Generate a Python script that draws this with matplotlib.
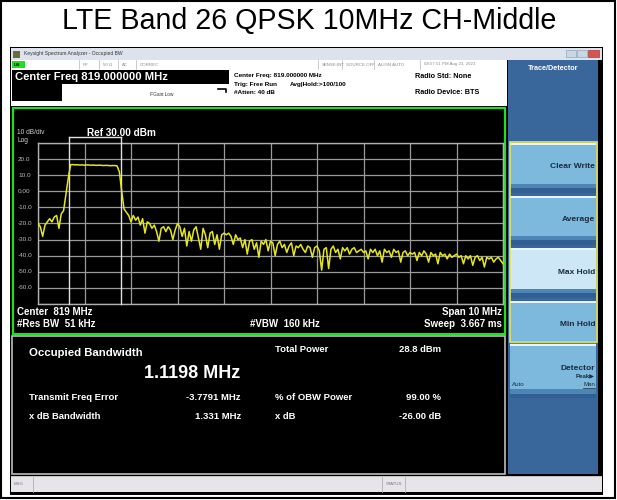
import numpy as np
import matplotlib
matplotlib.use('Agg')
import matplotlib.pyplot as plt
from matplotlib.patches import Rectangle

plt.rcParams['font.family'] = ['Liberation Sans', 'DejaVu Sans']

# ---- data ----
title = 'LTE Band 26 QPSK 10MHz CH-Middle'
start_mhz, stop_mhz = 814.0, 824.0
ref_level, db_per_div = 30.0, 10.0
obw_edges = [814.66, 815.78]

# trace level (dBm), one reading per 50 kHz from 814.00 to 824.00 MHz
trace_dbm = [
    -20, -22, -28, -21, -19, -17, -19, -16, -15, -23,
    -14, -12, -2, 8, 16.5, 16.6, 16.4, 16.5, 16.3, 16.4,
    16.2, 16.4, 16.3, 16.2, 16.3, 16.1, 16.2, 16.2, 16.0, 16.1,
    16.1, 15.9, 16.0, 16.0, 15.8, 12, 0, -11, -13, -15,
    -19, -15, -18, -16, -21, -17, -26, -19, -20, -23,
    -21, -25, -31, -23, -22, -25, -22, -24, -30, -24,
    -20, -22, -28, -23, -34, -25, -31, -24, -22, -29,
    -36, -23, -27, -35, -26, -25, -33, -27, -36, -27,
    -26, -27, -26, -28, -33, -27, -30, -29, -35, -30,
    -39, -31, -30, -36, -32, -41, -31, -33, -30, -37,
    -31, -32, -40, -33, -31, -35, -33, -38, -34, -32,
    -40, -34, -35, -33, -36, -38, -34, -35, -41, -35,
    -34, -37, -49, -36, -35, -48, -36, -34, -38, -36,
    -42, -35, -37, -35, -39, -36, -35, -38, -37, -36,
    -38, -37, -42, -36, -38, -36, -40, -37, -44, -36,
    -38, -37, -41, -36, -38, -37, -44, -38, -37, -40,
    -38, -39, -38, -43, -38, -40, -37, -39, -44, -38,
    -40, -39, -45, -38, -40, -39, -42, -39, -41, -40,
    -39, -41, -40, -45, -40, -42, -40, -46, -41, -40,
    -43, -41, -47, -41, -42, -41, -44, -42, -41, -43,
    -45,
]
freq_mhz = np.linspace(start_mhz, stop_mhz, len(trace_dbm))

y_labels = ['20.0', '10.0', '0.00', '-10.0', '-20.0', '-30.0', '-40.0', '-50.0', '-60.0']

header_mid = ['Center Freq: 819.000000 MHz', 'Trig: Free Run', '#Atten: 40 dB']
status_cells = [('RF', 83), ('50 \u03a9', 103), ('AC', 122), ('CORREC', 140),
                ('SENSE:INT', 322), ('SOURCE OFF', 346), ('ALIGN AUTO', 378),
                ('08:57:51 PM Aug 23, 2021', 424)]
results_left = [('Transmit Freq Error', '-3.7791 MHz'), ('x dB Bandwidth', '1.331 MHz')]
results_right = [('Total Power', '28.8 dBm'), ('% of OBW Power', '99.00 %'), ('x dB', '-26.00 dB')]
softkeys = ['Clear Write', 'Average', 'Max Hold', 'Min Hold']

W, H = 617, 500
fig = plt.figure(figsize=(W / 100, H / 100), dpi=100)
fig.patch.set_facecolor('white')

# overlay in pixel units for the instrument frame
ov = fig.add_axes([0, 0, 1, 1])
ov.set_xlim(0, W)
ov.set_ylim(H, 0)
ov.axis('off')


def box(x0, y0, x1, y1, fc, ec='none', lw=0, z=1):
    ov.add_patch(Rectangle((x0, y0), x1 - x0, y1 - y0, facecolor=fc, edgecolor=ec, linewidth=lw, zorder=z))


def txt(x, y, s, size=6, color='white', ha='left', bold=True, z=5, **kw):
    ov.text(x, y, s, fontsize=size, color=color, ha=ha, va='center',
            fontweight='bold' if bold else 'normal', zorder=z, **kw)


# outer cell border and title
box(1, 1, 615, 498, 'none', ec='black', lw=1.5, z=10)
txt(309, 21, title, size=20.6, color='black', ha='center', bold=False)

# instrument screen frame
box(10, 47, 603, 495, 'black')
# window title bar
box(11, 48, 602, 60, '#dde3ec')
box(13, 50.5, 20, 57.5, '#6b6b3a')
txt(24, 54, 'Keysight Spectrum Analyzer - Occupied BW', size=3.6, color='#333333', bold=False)
box(566, 50, 576, 57, '#c9d6e6', ec='#8899aa', lw=0.4)
box(577, 50, 587, 57, '#c9d6e6', ec='#8899aa', lw=0.4)
box(588, 50, 599, 57, '#d9534f', ec='#8a2a25', lw=0.4)

# status row
box(11, 60, 507, 69, 'white')
box(12, 61, 25, 68, '#22dd22')
txt(14, 64.5, 'LXI', size=3, color='black')
for s, x in status_cells:
    txt(x, 64.5, s, size=3.2, color='#8a8a8a', bold=False)
    ov.plot([x - 4, x - 4], [60, 69], color='#b5b5b5', lw=0.5, zorder=2)

# header rows
box(11, 69, 507, 106, 'white')
box(12, 70, 229, 84, 'black')
txt(15, 77, 'Center Freq 819.000000 MHz', size=8.1, color='white')
box(12, 84, 62, 101, 'black')
txt(150, 95, 'IFGain:Low', size=3.4, color='#333333', bold=False)
ov.plot([218, 226, 226], [89, 89, 92], color='black', lw=1.2, zorder=3)
for i, s in enumerate(header_mid):
    txt(234, 76 + i * 8.5, s, size=4.6, color='black')
txt(290, 84.5, 'Avg|Hold:>100/100', size=4.6, color='black')
txt(415, 76, 'Radio Std: None', size=5.2, color='black')
txt(415, 93, 'Radio Device: BTS', size=5.2, color='black')

# graph pane
box(13, 108, 505, 333.5, 'black', ec='#22dd22', lw=1.6, z=2)
txt(17, 133, '10 dB/div', size=4.8, color='#cfcfcf', bold=False)
txt(87, 132.5, 'Ref 30.00 dBm', size=7.2, color='white')
txt(17, 141, 'Log', size=4.8, color='#cfcfcf', bold=False)
txt(17, 312, 'Center  819 MHz', size=7, color='white')
txt(17, 324, '#Res BW  51 kHz', size=7, color='white')
txt(250, 324, '#VBW  160 kHz', size=7, color='white')
txt(502, 312, 'Span 10 MHz', size=7, color='white', ha='right')
txt(502, 324, 'Sweep  3.667 ms', size=7, color='white', ha='right')

# results pane
box(12, 336, 505, 474, 'black', ec='#bdbdbd', lw=1.2, z=2)
txt(29, 353, 'Occupied Bandwidth', size=8.2, color='white')
txt(240, 373, '1.1198 MHz', size=13, color='white', ha='right')
for i, (name, val) in enumerate(results_left):
    txt(29, 397 + i * 19.5, name, size=6.8, color='white')
    txt(241, 397 + i * 19.5, val, size=6.8, color='white', ha='right')
for i, (name, val) in enumerate(results_right):
    yy = 350 + [0, 47, 66.5][i]
    txt(275, yy, name, size=6.8, color='white')
    txt(441, yy, val, size=6.8, color='white', ha='right')

# message bar
box(11, 476, 602, 492, '#e7e5ea')
box(11, 476, 602, 477, '#c4c4c4')
txt(14, 484, 'MSG', size=3.2, color='#777777', bold=False)
ov.plot([33, 33], [477, 492], color='#b0b0b0', lw=0.6, zorder=3)
txt(386, 484, 'STATUS', size=3.2, color='#777777', bold=False)
ov.plot([382, 382], [477, 492], color='#b0b0b0', lw=0.6, zorder=3)
ov.plot([405, 405], [477, 492], color='#b0b0b0', lw=0.6, zorder=3)

# softkey panel
box(508, 60, 598, 474, '#3a679b')
txt(553, 68, 'Trace/Detector', size=5.2, color='white', ha='center')
key_top = 143
key_h = 49.5
for i, s in enumerate(softkeys):
    y0 = key_top + i * (key_h + 3)
    face = '#cde7f6' if s == 'Max Hold' else '#7db8dd'
    box(510, y0, 596, y0 + key_h, face)
    box(510, y0 + key_h - 9, 596, y0 + key_h - 5, '#4d86b5')
    box(510, y0 + key_h - 5, 596, y0 + key_h, '#2f5f93')
    box(510, y0, 596, y0 + 2, '#e8f4fb')
    txt(595, y0 + 24, s, size=6, color='#1d2a3a', ha='right')
box(509.5, 142, 596.5, 342, 'none', ec='#e6e65a', lw=1.2, z=4)
box(510, 344, 596, 398, '#7db8dd')
box(510, 344, 596, 346, '#e8f4fb')
box(510, 389, 596, 394, '#4d86b5')
box(510, 394, 596, 398, '#2f5f93')
txt(595, 368, 'Detector', size=6, color='#1d2a3a', ha='right')
txt(595, 376, 'Peak\u25b6', size=4.4, color='#1d2a3a', ha='right')
txt(512, 384, 'Auto', size=4.4, color='#1d2a3a', bold=False)
txt(595, 384, 'Man', size=4.4, color='#1d2a3a', ha='right', bold=False)
ov.plot([583, 595], [388, 388], color='#1d2a3a', lw=0.5, zorder=6)

# spectrum trace axes
gx0, gx1, gy0, gy1 = 38, 503, 143, 304
sp = fig.add_axes([gx0 / W, 1 - gy1 / H, (gx1 - gx0) / W, (gy1 - gy0) / H], zorder=3)
sp.set_facecolor('black')
sp.set_xlim(start_mhz, stop_mhz)
sp.set_ylim(ref_level - 10 * db_per_div, ref_level)
sp.set_xticks(np.arange(start_mhz, stop_mhz + 0.1, 1.0))
sp.set_yticks(np.arange(ref_level - 10 * db_per_div, ref_level + 1, db_per_div))
sp.grid(True, color='#9a9a9a', lw=0.9)
sp.tick_params(length=0, labelbottom=False, labelleft=False)
for sdir in sp.spines.values():
    sdir.set_color('#b0b0b0')
    sdir.set_linewidth(1.0)
sp.plot(freq_mhz, trace_dbm, color='#e6e61e', lw=1.1, zorder=4)
for f in obw_edges:
    sp.plot([f, f], [ref_level - 10 * db_per_div, ref_level + 3.5], color='#e0e0e0',
            lw=1.0, clip_on=False, zorder=3)
sp.plot(obw_edges, [ref_level + 3.5] * 2, color='#e0e0e0', lw=1.0, clip_on=False, zorder=3)
for i, s in enumerate(y_labels):
    sp.text(-0.043, 20 - 10 * i, s, transform=sp.get_yaxis_transform(), fontsize=4.6,
            color='#bdbdbd', ha='left', va='center')

fig.savefig('out.png', dpi=100, facecolor='white')
